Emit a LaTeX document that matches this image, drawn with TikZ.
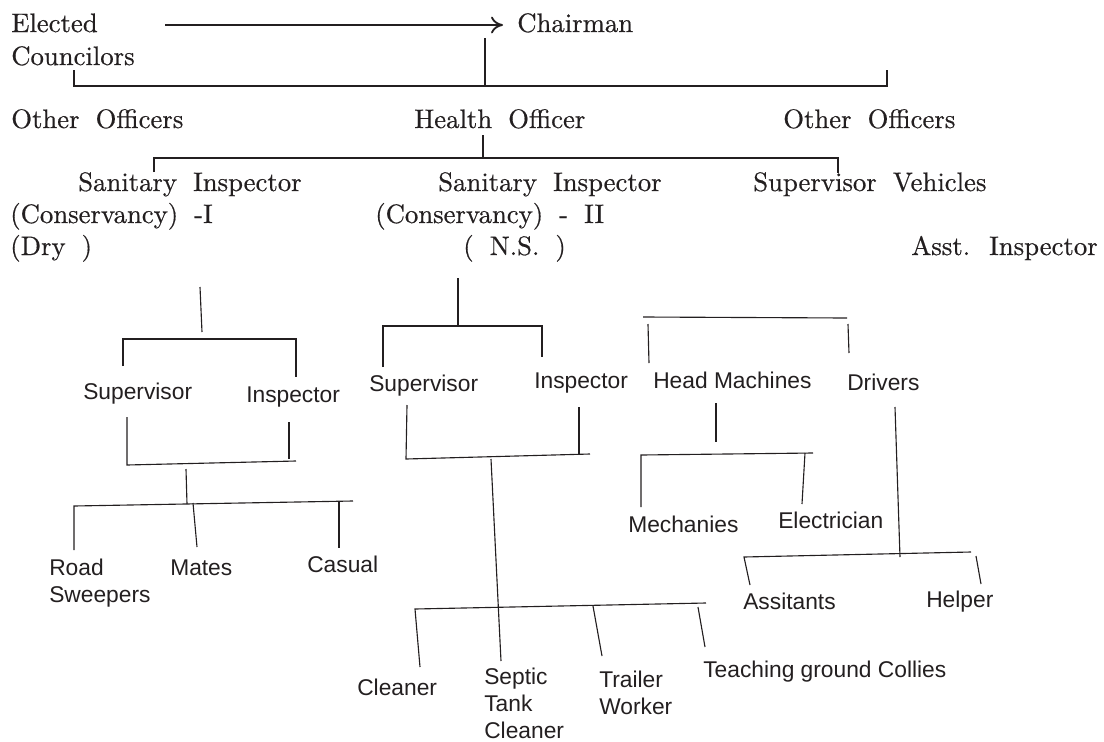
\documentclass[tikz,border=0pt]{standalone}
\usepackage{fontspec}
\newfontfamily\staffsans{Liberation Sans}
\newfontfamily\rankserif{lmroman10-regular}[Extension=.otf, FakeBold=0.5]
\usepackage{tikz}
\usetikzlibrary{arrows.meta}
\definecolor{ink}{HTML}{231F20}
\tikzset{
  rank/.style  = {anchor=base west, inner sep=0pt, text=ink,
                  font={\rankserif\fontsize{19pt}{23pt}\selectfont\spaceskip=0.6em\relax}},
  staff/.style = {anchor=base west, inner sep=0pt, text=ink, align=left,
                  font={\staffsans\fontsize{16.2pt}{19.2pt}\selectfont}},
  bar/.style   = {draw=ink, line width=1.3pt},
  link/.style  = {draw=ink, line width=0.8pt},
  flow/.style  = {-{Computer Modern Rightarrow[length=3mm,width=4.2mm]}, draw=ink, line width=1.3pt},
}

\begin{document}
\begin{tikzpicture}[x=0.25mm, y=-0.25mm]
  \useasboundingbox (0,0) rectangle (1104,741);

  % council level
  \node[rank] (elected)    at (11,32)   {Elected};
  \node[rank] (councilors) at (11,65)   {Councilors};
  \node[rank] (chair)      at (517,32)  {Chairman};
  \node[rank] (otherL)     at (11,128)  {Other Officers};
  \node[rank] (health)     at (414,128) {Health Officer};
  \node[rank] (otherR)     at (783,128) {Other Officers};

  \coordinate (arrowtail) at (165,25);
  \coordinate (arrowtip)  at (503,25);
  \draw[flow] (arrowtail) -- (arrowtip);

  \coordinate (chtop)  at (485,38);
  \coordinate (chfoot) at (485,86);
  \coordinate (b1w)    at (74,70);
  \coordinate (b1e)    at (887,70);
  \draw[bar] (chtop) -- (chfoot);
  \draw[bar] (b1w) |- (chfoot) -| (b1e);

  \coordinate (hotop)  at (483,135);
  \coordinate (hofoot) at (483,158);
  \coordinate (b2w)    at (154,172);
  \coordinate (b2e)    at (838,173);
  \draw[bar] (hotop) -- (hofoot);
  \draw[bar] (b2w) |- (hofoot) -| (b2e);

  % sanitary inspectors
  \node[rank] (sanI)    at (78,191)  {Sanitary Inspector};
  \node[rank] (consI)   at (10,223)  {(Conservancy) -I};
  \node[rank] (dry)     at (10,255)  {(Dry )};
  \node[rank] (sanII)   at (438,191) {Sanitary Inspector};
  \node[rank] (consII)  at (375,223) {(Conservancy) - II};
  \node[rank] (ns)      at (463,255) {( N.S. )};
  \node[rank] (supveh)  at (753,191) {Supervisor Vehicles};
  \node[rank] (asst)    at (911,255) {Asst. Inspector};

  % staff below
  \node[staff] (supL)     at (83,399)  {Supervisor};
  \node[staff] (insL)     at (246,402) {Inspector};
  \node[staff] (supM)     at (369,391) {Supervisor};
  \node[staff] (insM)     at (534,388) {Inspector};
  \node[staff] (headm)    at (653,388) {Head Machines};
  \node[staff] (drivers)  at (847,390) {Drivers};
  \node[staff] (road)     at (49,602)  {Road\\Sweepers};
  \node[staff] (mates)    at (170,575) {Mates};
  \node[staff] (casual)   at (307,572) {Casual};
  \node[staff] (mech)     at (628,532) {Mechanies};
  \node[staff] (elec)     at (778,528) {Electrician};
  \node[staff] (assit)    at (743,609) {Assitants};
  \node[staff] (helper)   at (926,607) {Helper};
  \node[staff] (cleaner)  at (357,695) {Cleaner};
  \node[staff] (septic)   at (484,738) {Septic\\Tank\\Cleaner};
  \node[staff] (trailer)  at (599,714) {Trailer\\Worker};
  \node[staff] (teaching) at (703,677) {Teaching ground Collies};

  % dry side
  \coordinate (s1top)  at (200,287);
  \coordinate (s1foot) at (202,332);
  \coordinate (b3m)    at (202,339);
  \coordinate (b3w)    at (123,366);
  \coordinate (b3e)    at (296,377);
  \draw[link] (s1top) -- (s1foot);
  \draw[link] (b3w) |- (b3m) -| (b3e);

  \coordinate (supLa)  at (127,417);
  \coordinate (supLb)  at (127,465);
  \coordinate (mergeL) at (296,461);
  \coordinate (insLa)  at (289,422);
  \coordinate (insLb)  at (289,459);
  \draw[link] (supLa) -- (supLb) -- (mergeL);
  \draw[link] (insLa) -- (insLb);

  \coordinate (downLa) at (186,469);
  \coordinate (downLb) at (187,504);
  \coordinate (roadtip) at (74,550);
  \coordinate (b4w)    at (74,506);
  \coordinate (b4e)    at (353,501);
  \coordinate (matesa) at (193,503);
  \coordinate (matesb) at (197,547);
  \coordinate (casuala) at (339,501);
  \coordinate (casualb) at (339,548);
  \draw[link] (downLa) -- (downLb);
  \draw[link] (roadtip) -- (b4w) -- (b4e);
  \draw[link] (matesa) -- (matesb);
  \draw[link] (casuala) -- (casualb);

  % night soil side
  \coordinate (s2top)  at (458,278);
  \coordinate (s2foot) at (458,326);
  \coordinate (b5w)    at (383,367);
  \coordinate (b5e)    at (542,357);
  \draw[link] (s2top) -- (s2foot);
  \draw[link] (b5w) |- (s2foot) -| (b5e);

  \coordinate (supMa)  at (407,405);
  \coordinate (supMb)  at (406,459);
  \coordinate (mergeM) at (590,454);
  \coordinate (insMa)  at (579,407);
  \coordinate (insMb)  at (579,455);
  \draw[link] (supMa) -- (supMb) -- (mergeM);
  \draw[link] (insMa) -- (insMb);

  \coordinate (trunka) at (491,459);
  \coordinate (trunkb) at (501,661);
  \coordinate (b6w)    at (415,609);
  \coordinate (b6e)    at (706,603);
  \coordinate (cleanb) at (420,667);
  \coordinate (trailera) at (593,606);
  \coordinate (trailerb) at (602,656);
  \coordinate (teacha) at (698,607);
  \coordinate (teachb) at (705,647);
  \draw[link] (trunka) -- (trunkb);
  \draw[link] (cleanb) -- (b6w) -- (b6e);
  \draw[link] (trailera) -- (trailerb);
  \draw[link] (teacha) -- (teachb);

  % vehicles side
  \coordinate (b7w)    at (643,317);
  \coordinate (b7e)    at (847,318);
  \coordinate (heada)  at (648,324);
  \coordinate (headb)  at (649,363);
  \coordinate (drva)   at (848,324);
  \coordinate (drvb)   at (849,353);
  \draw[link] (b7w) -- (b7e);
  \draw[link] (heada) -- (headb);
  \draw[link] (drva) -- (drvb);

  \coordinate (hmfoota) at (716,403);
  \coordinate (hmfootb) at (716,442);
  \coordinate (mechtip) at (641,507);
  \coordinate (b8w)    at (641,455);
  \coordinate (b8e)    at (813,453);
  \coordinate (eleca)  at (805,453);
  \coordinate (elecb)  at (802,504);
  \draw[link] (hmfoota) -- (hmfootb);
  \draw[link] (mechtip) -- (b8w) -- (b8e);
  \draw[link] (eleca) -- (elecb);

  \coordinate (drvfoota) at (895,407);
  \coordinate (drvfootb) at (900,557);
  \coordinate (assittip) at (750,585);
  \coordinate (b9w)    at (744,557);
  \coordinate (b9e)    at (971,552);
  \coordinate (helpa)  at (976,556);
  \coordinate (helpb)  at (981,584);
  \draw[link] (drvfoota) -- (drvfootb);
  \draw[link] (assittip) -- (b9w) -- (b9e);
  \draw[link] (helpa) -- (helpb);
\end{tikzpicture}
\end{document}
